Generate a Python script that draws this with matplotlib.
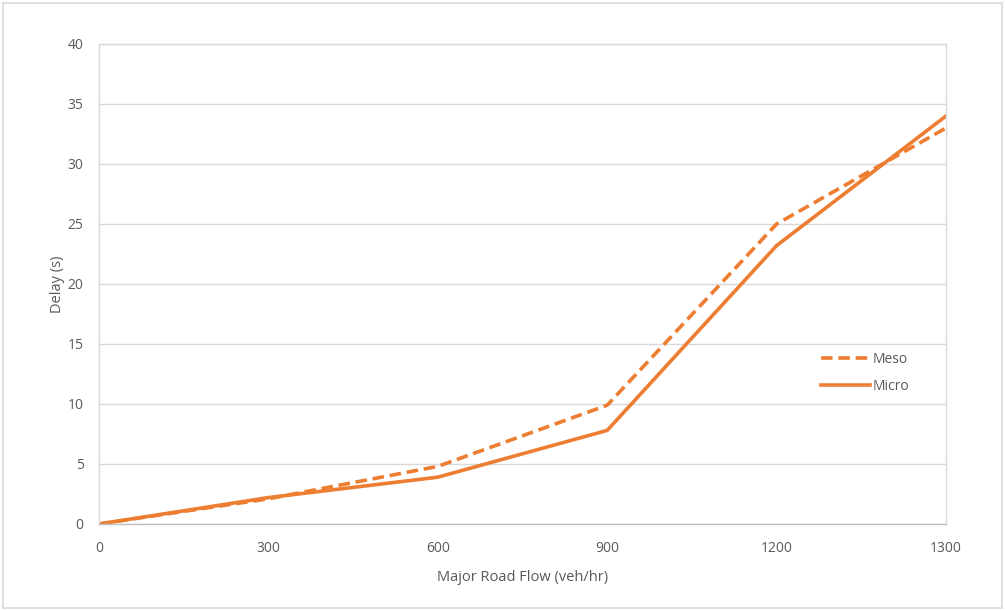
import matplotlib
matplotlib.use("Agg")
import matplotlib.pyplot as plt
from matplotlib.patches import Rectangle

flow_labels = ["0", "300", "600", "900", "1200", "1300"]
meso = [0.0, 2.1, 4.8, 9.9, 25.0, 33.0]
micro = [0.0, 2.2, 3.9, 7.8, 23.2, 34.0]

plt.rcParams['font.family'] = ['Open Sans', 'DejaVu Sans']
txt = '#595959'
orange = '#ED7D31'

fig = plt.figure(figsize=(10.05, 6.10), dpi=100)
fig.patches.append(Rectangle((0.003, 0.003), 0.994, 0.992, transform=fig.transFigure,
                             fill=False, edgecolor='#D9D9D9', linewidth=1.2))
ax = fig.add_axes([0.0985, 0.141, 0.8428, 0.7869])

x = list(range(len(flow_labels)))
ax.plot(x, meso, color=orange, linewidth=2.6, linestyle=(0, (3.2, 1.6)), label='Meso')
ax.plot(x, micro, color=orange, linewidth=2.6, label='Micro')

ax.set_xlim(0, len(flow_labels) - 1)
ax.set_ylim(0, 40)
ax.set_yticks(range(0, 41, 5))
ax.set_xticks(x)
ax.set_xticklabels(flow_labels)
ax.grid(axis='y', color='#D9D9D9', linewidth=1)
ax.set_axisbelow(True)
for s in ax.spines.values():
    s.set_color('#D9D9D9')
    s.set_linewidth(1)
ax.spines['bottom'].set_color('#BFBFBF')
ax.tick_params(length=0, colors=txt, labelsize=10)
ax.tick_params(axis='y', pad=11)
ax.tick_params(axis='x', pad=12)
ax.set_xlabel('Major Road Flow (veh/hr)', color=txt, fontsize=10.5, labelpad=10)
ax.set_ylabel('Delay (s)', color=txt, fontsize=10.5, labelpad=2)

leg = ax.legend(loc='center left', bbox_to_anchor=(0.846, 0.315), frameon=False,
                fontsize=10, handlelength=3.5, labelspacing=0.85, handletextpad=0.2,
                borderaxespad=0)
for t in leg.get_texts():
    t.set_color(txt)

fig.savefig('out.png', dpi=100)
